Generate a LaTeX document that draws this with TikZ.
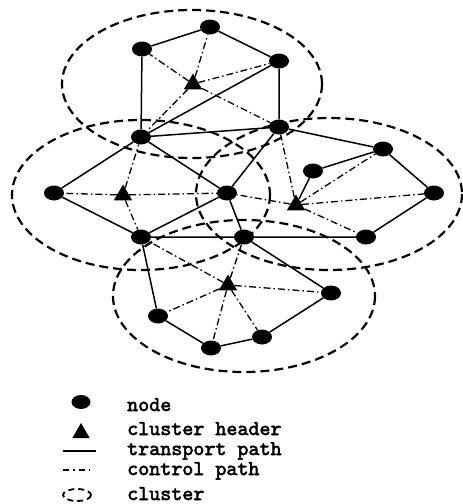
\documentclass[tikz,border=0pt]{standalone}
\usepackage{fontspec}
\newfontfamily\legfont[FakeBold=2.5]{lmmono10-regular.otf}
\usetikzlibrary{shapes.geometric}
\begin{document}
\begin{tikzpicture}[x=1pt,y=-1pt,
  nd/.style={ellipse,fill=black,minimum width=20pt,minimum height=15pt,inner sep=0pt},
  hd/.style={regular polygon,regular polygon sides=3,fill=black,minimum size=21pt,inner sep=0pt},
  transport/.style={line width=1.5pt},
  control/.style={line width=1.3pt,dash pattern=on 7pt off 3pt on 1.5pt off 3pt},
  clus/.style={line width=2.2pt,dash pattern=on 9pt off 5pt},
  lbl/.style={anchor=base west,inner sep=0pt,font=\legfont\fontsize{21}{22}\selectfont}]
\useasboundingbox (0,0) rectangle (463,504);
% clusters
\draw[clus] (192,84) ellipse [x radius=130,y radius=74];
\draw[clus] (141,195) ellipse [x radius=129,y radius=75];
\draw[clus] (329,194) ellipse [x radius=133,y radius=76];
\draw[clus] (244,296) ellipse [x radius=131,y radius=76];
% nodes
\node[nd] (A) at (142,49) {};
\node[nd] (B) at (210,27) {};
\node[nd] (C) at (279,61) {};
\node[nd] (D) at (279,127) {};
\node[nd] (E) at (141,137) {};
\node[nd] (F) at (383,149) {};
\node[nd] (G) at (313,171) {};
\node[nd] (H) at (54,193) {};
\node[nd] (I) at (227,193) {};
\node[nd] (J) at (434,193) {};
\node[nd] (K) at (141,237) {};
\node[nd] (L) at (244,237) {};
\node[nd] (M) at (366,237) {};
\node[nd] (N) at (331,293) {};
\node[nd] (O) at (158,316) {};
\node[nd] (P) at (262,337) {};
\node[nd] (Q) at (211,348) {};
\node[hd] (T1) at (193,84) {};
\node[hd] (T2) at (123,195) {};
\node[hd] (T3) at (296,205) {};
\node[hd] (T4) at (228,285) {};
% transport paths
\draw[transport] (A)--(B) (B)--(C) (A)--(E) (C)--(D) (E)--(C) (E)--(D)
  (E)--(H) (E)--(I) (H)--(K) (K)--(I) (I)--(D) (D)--(F) (F)--(G) (G)--(T3)
  (F)--(J) (J)--(M) (M)--(L) (K)--(L) (I)--(L) (K)--(O) (O)--(Q) (Q)--(P)
  (P)--(N) (L)--(N);
% control paths
\draw[control] (T1)--(A) (T1)--(B) (T1)--(C) (T1)--(D) (T1)--(E);
\draw[control] (T2)--(H) (T2)--(E) (T2)--(I) (T2)--(K);
\draw[control] (T3)--(D) (T3)--(I) (T3)--(F) (T3)--(J) (T3)--(M);
\draw[control] (T4)--(K) (T4)--(L) (T4)--(N) (T4)--(O) (T4)--(Q) (T4)--(P);
% legend
\node[nd,minimum width=19pt,minimum height=14pt] (lgN) at (81,402) {};
\node[hd,minimum size=20pt] (lgT) at (81,433) {};
\coordinate (lgA1) at (63,451); \coordinate (lgA2) at (96,451);
\draw[transport] (lgA1)--(lgA2);
\coordinate (lgB1) at (63,470); \coordinate (lgB2) at (93,470);
\draw[control,dash pattern=on 6pt off 4pt on 1.5pt off 4pt] (lgB1)--(lgB2);
\draw[clus,line width=1.8pt,dash pattern=on 6pt off 4pt] (77,495) ellipse [x radius=14,y radius=6];
\node[lbl] (t1) at (127,411) {node};
\node[lbl] (t2) at (127,435) {cluster header};
\node[lbl] (t3) at (127,455) {transport path};
\node[lbl] (t4) at (127,475) {control path};
\node[lbl] (t5) at (127,500) {cluster};
\end{tikzpicture}
\end{document}
